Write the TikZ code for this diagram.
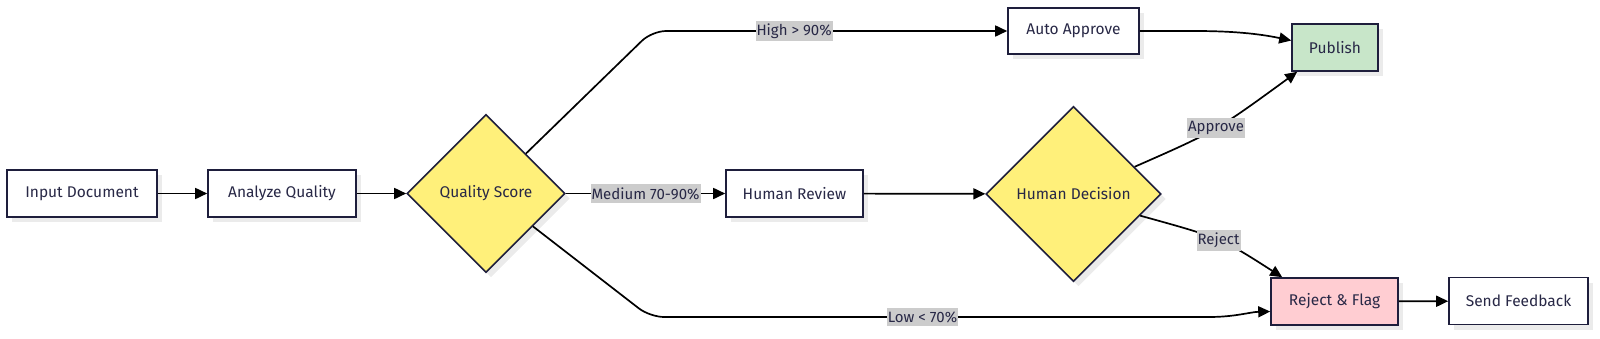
\documentclass[tikz,border=0pt]{standalone}
\usepackage{fontspec}
\setmainfont{Fira Sans}
\usetikzlibrary{shapes.geometric,arrows.meta,shadows}
\definecolor{edgeblue}{RGB}{30,30,60}
\definecolor{inkblue}{RGB}{40,40,70}
\definecolor{ylw}{RGB}{255,240,122}
\definecolor{grn}{RGB}{200,230,201}
\definecolor{pnk}{RGB}{255,205,210}
\begin{document}
\begin{tikzpicture}[x=1pt, y=-1pt,
  shade/.style={drop shadow={fill=black, opacity=0.08, shadow xshift=5pt, shadow yshift=-5pt}},
  proc/.style={draw=edgeblue, line width=1.6pt, fill=white, text=inkblue, minimum height=47pt,
    inner sep=0pt, font=\fontsize{15.5}{18}\selectfont, shade},
  decision/.style={diamond, aspect=1, draw=edgeblue, line width=1.6pt, fill=ylw, text=inkblue,
    inner sep=0pt, font=\fontsize{15.5}{18}\selectfont, shade},
  flow/.style={line width=1.7pt, -{Triangle[length=12pt, width=11pt]}},
  lbl/.style={sharp corners, fill=black!20, text=inkblue, inner xsep=1pt, inner ysep=3pt,
    font=\fontsize{15}{18}\selectfont}]
  \useasboundingbox[fill=white] (0,0) rectangle (1600,338);
  % Main row
  \node[proc, minimum width=150pt] (input) at (82,193.5) {Input Document};
  \node[proc, minimum width=148pt] (ana) at (282,193.5) {Analyze Quality};
  \node[decision, minimum width=158pt, minimum height=158pt] (qs) at (486,193.5) {Quality Score};
  \node[proc, minimum width=137pt] (hr) at (794.5,193.5) {Human Review};
  \node[decision, minimum width=175pt, minimum height=175pt] (hd) at (1073.5,194) {Human Decision};
  % Outcomes
  \node[proc, minimum width=131pt, minimum height=46pt] (auto) at (1073.5,31) {Auto Approve};
  \node[proc, fill=grn, minimum width=86pt] (pub) at (1335,47.5) {Publish};
  \node[proc, fill=pnk, minimum width=127pt] (rej) at (1334.5,301.5) {Reject \& Flag};
  \node[proc, minimum width=139pt] (fb) at (1518.5,301) {Send Feedback};
  % Straight connectors
  \foreach \a/\b in {input/ana, ana/qs, hr/hd, rej/fb} {
    \draw[flow] (\a) -- (\b);
  }
  % Score branches
  \draw[flow] (qs) -- node[lbl] {Medium 70-90\%} (hr);
  \draw[flow, rounded corners=14pt] (qs.north east) -- (652,31)
    -- node[lbl, pos=0.4] {High > 90\%} (auto);
  \draw[flow, rounded corners=14pt] (qs.-35) -- (650,317)
    -- node[lbl] {Low < 70\%} (1195,317)
    .. controls (1235,317) and (1250,312) .. ([yshift=-10pt]rej.west);
  % Into publish
  \draw[flow] (auto) -- (1195,31) .. controls (1240,31) and (1265,35) .. ([yshift=7pt]pub.west);
  \draw[flow] (hd.24) .. controls (1216,131) .. node[lbl] {Approve} ([xshift=6pt]pub.south west);
  % Into reject
  \draw[flow] (hd.-18) .. controls (1221,238) .. node[lbl] {Reject} ([xshift=12pt]rej.north west);
\end{tikzpicture}
\end{document}
